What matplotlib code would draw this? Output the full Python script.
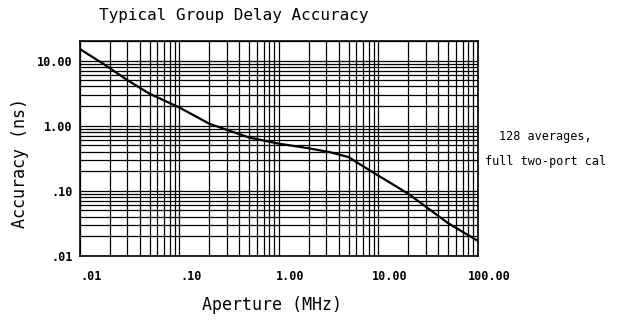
import matplotlib.pyplot as plt
from matplotlib.transforms import ScaledTranslation

# typical group delay accuracy vs aperture (128 averages, full two-port cal)
aperture_mhz = [0.01, 0.017, 0.03, 0.05, 0.1, 0.2, 0.5, 1.0, 2.0, 3.3, 5.0, 8.0, 20.0, 50.0, 100.0]
accuracy_ns = [15.0, 9.0, 5.0, 3.1, 1.9, 1.07, 0.66, 0.53, 0.45, 0.39, 0.33, 0.21, 0.09, 0.032, 0.017]

x_ticks = [0.01, 0.1, 1, 10, 100]
x_labels = ['.01', '.10', '1.00', '10.00', '100.00']
y_ticks = [0.01, 0.1, 1, 10]
y_labels = ['.01', '.10', '1.00', '10.00']

plt.rcParams['font.family'] = 'DejaVu Sans Mono'

fig = plt.figure(figsize=(6.18, 3.2), dpi=100)
ax = fig.add_axes([0.1294, 0.2, 0.644, 0.672])

ax.plot(aperture_mhz, accuracy_ns, color='black', lw=1.6, zorder=3)

ax.set_xscale('log')
ax.set_yscale('log')
ax.set_xlim(0.01, 100)
ax.set_ylim(0.01, 20)

ax.set_xticks(x_ticks)
ax.set_xticklabels(x_labels, fontsize=8.5, fontweight='bold')
ax.set_yticks(y_ticks)
ax.set_yticklabels(y_labels, fontsize=8.5, fontweight='bold')
ax.tick_params(which='both', length=0)
ax.tick_params(axis='x', pad=10)
ax.tick_params(axis='y', pad=5.5)

# shift x labels a bit right of the decade lines
for lbl in ax.get_xticklabels():
    lbl.set_transform(lbl.get_transform() + ScaledTranslation(8 / 72, 0, fig.dpi_scale_trans))

ax.grid(which='major', color='black', lw=0.9)
ax.grid(which='minor', color='black', lw=0.9)
for s in ax.spines.values():
    s.set_linewidth(1.2)

fig.text(0.379, 0.953, 'Typical Group Delay Accuracy', ha='center', va='center', fontsize=11.5)
fig.text(0.032, 0.49, 'Accuracy (ns)', ha='center', va='center', rotation=90, fontsize=12)
fig.text(0.44, 0.047, 'Aperture (MHz)', ha='center', va='center', fontsize=12)
fig.text(0.883, 0.573, '128 averages,', ha='center', va='center', fontsize=8.5)
fig.text(0.883, 0.494, 'full two-port cal', ha='center', va='center', fontsize=8.5)

fig.savefig('out.png', dpi=100)
